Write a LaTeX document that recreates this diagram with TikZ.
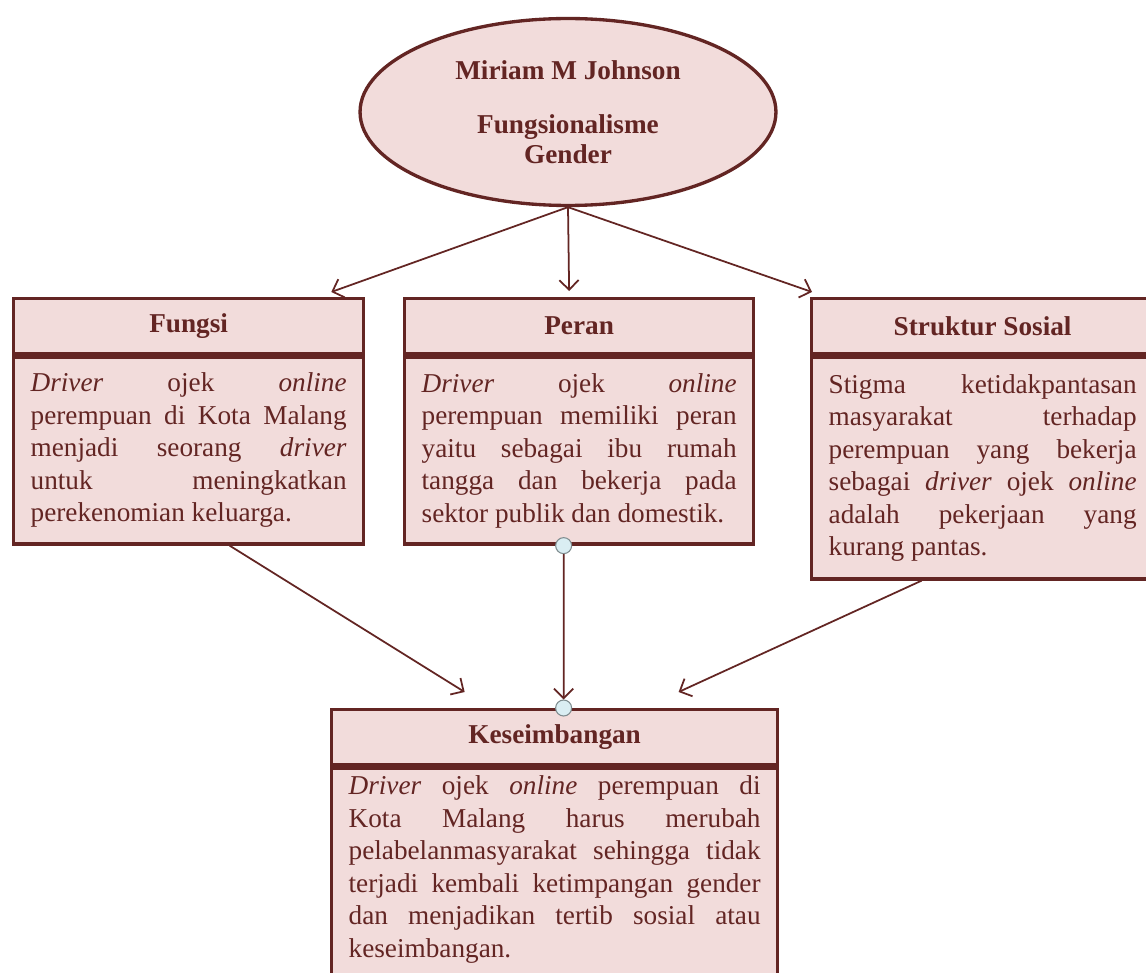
\documentclass[tikz,border=0pt]{standalone}
\usepackage{fontspec}
\setmainfont{Liberation Serif}
\usetikzlibrary{arrows.meta,positioning,shapes.geometric}
\definecolor{mjred}{HTML}{632523}
\definecolor{mjpink}{HTML}{F2DCDB}
\definecolor{mjdot}{HTML}{DAEEF3}
\definecolor{mjgrey}{HTML}{7F8C8F}
\setlength{\parindent}{0pt}
\tolerance=10000
\hbadness=10000

\begin{document}
\begin{tikzpicture}[x=0.02cm, y=-0.02cm,
    font=\fontsize{15.5}{18.5}\selectfont, text=mjred,
    >={Straight Barb[length=5.5pt,width=11pt]},
    hd/.style={rectangle,draw=mjred,line width=1.9pt,fill=mjpink,anchor=north west,
               minimum height=1.1cm,inner sep=0pt,font=\fontsize{15.5}{18.5}\selectfont\bfseries},
    bd/.style={rectangle,draw=mjred,line width=1.9pt,fill=mjpink,inner xsep=0.34cm,
               inner ysep=0.16cm,align=justify},
    dot/.style={circle,draw=mjgrey,fill=mjdot,line width=0.6pt,minimum size=0.32cm,inner sep=0pt},
    link/.style={->,draw=mjred,line width=1pt}]

  \useasboundingbox (0,0) rectangle (1146,973);
  \fill[white] (0,0) rectangle (1146,973);
  \clip (0,0) rectangle (1146,973);

  \node[ellipse,draw=mjred,line width=1.9pt,fill=mjpink,minimum width=8.32cm,minimum height=3.74cm,
        inner sep=0pt,align=center,font=\fontsize{15.5}{17}\selectfont\bfseries] (mj) at (568,112)
       {Miriam M Johnson\\[13.6pt]Fungsionalisme\\Gender};

  \node[hd,minimum width=7.00cm] (fungsi) at (12,297) {Fungsi};
  \node[bd,text width=6.32cm,minimum height=3.74cm,below=0pt of fungsi] (fungsib)
       {\textit{Driver} ojek \textit{online}\linebreak
        perempuan di Kota Malang\linebreak
        menjadi seorang \textit{driver}\linebreak
        untuk meningkatkan\linebreak
        perekenomian keluarga.};

  \node[hd,minimum width=6.98cm] (peran) at (403,297) {Peran};
  \node[bd,text width=6.30cm,minimum height=3.74cm,below=0pt of peran] (peranb)
       {\textit{Driver} ojek \textit{online}\linebreak
        perempuan memiliki peran\linebreak
        yaitu sebagai ibu rumah\linebreak
        tangga dan bekerja pada\linebreak
        sektor publik dan domestik.};

  \node[hd,minimum width=6.84cm] (struktur) at (810,297) {Struktur Sosial};
  \node[bd,text width=6.16cm,minimum height=4.44cm,below=0pt of struktur] (strukturb)
       {Stigma ketidakpantasan\linebreak
        masyarakat terhadap\linebreak
        perempuan yang bekerja\linebreak
        sebagai \textit{driver} ojek \textit{online}\linebreak
        adalah pekerjaan yang\linebreak
        kurang pantas.};

  \node[hd,minimum width=8.92cm] (kesei) at (330,708) {Keseimbangan};
  \node[bd,text width=8.24cm,below=0pt of kesei] (keseib)
       {\textit{Driver} ojek \textit{online} perempuan di\linebreak
        Kota Malang harus merubah\linebreak
        pelabelanmasyarakat sehingga tidak\linebreak
        terjadi kembali ketimpangan gender\linebreak
        dan menjadikan tertib sosial atau\linebreak
        keseimbangan.\par\vspace{24pt}};

  \node[dot] (pdot) at ([xshift=-0.31cm]peranb.south) {};
  \node[dot] (kdot) at ([xshift=0.18cm]kesei.north) {};

  \draw[link] (mj.south) -- ([xshift=-0.68cm,yshift=0.1cm]fungsi.north east);
  \draw[link] (mj.south) -- ([xshift=-0.2cm,yshift=0.12cm]peran.north);
  \draw[link] (mj.south) -- ([xshift=0.04cm,yshift=0.1cm]struktur.north west);
  \draw[link] ([xshift=0.82cm]fungsib.south) -- ([xshift=-1.8cm,yshift=0.32cm]kesei.north);
  \draw[link] ([xshift=-1.22cm]strukturb.south) -- ([xshift=2.48cm,yshift=0.32cm]kesei.north);
  \draw[link] (pdot) -- (kdot);
\end{tikzpicture}
\end{document}
